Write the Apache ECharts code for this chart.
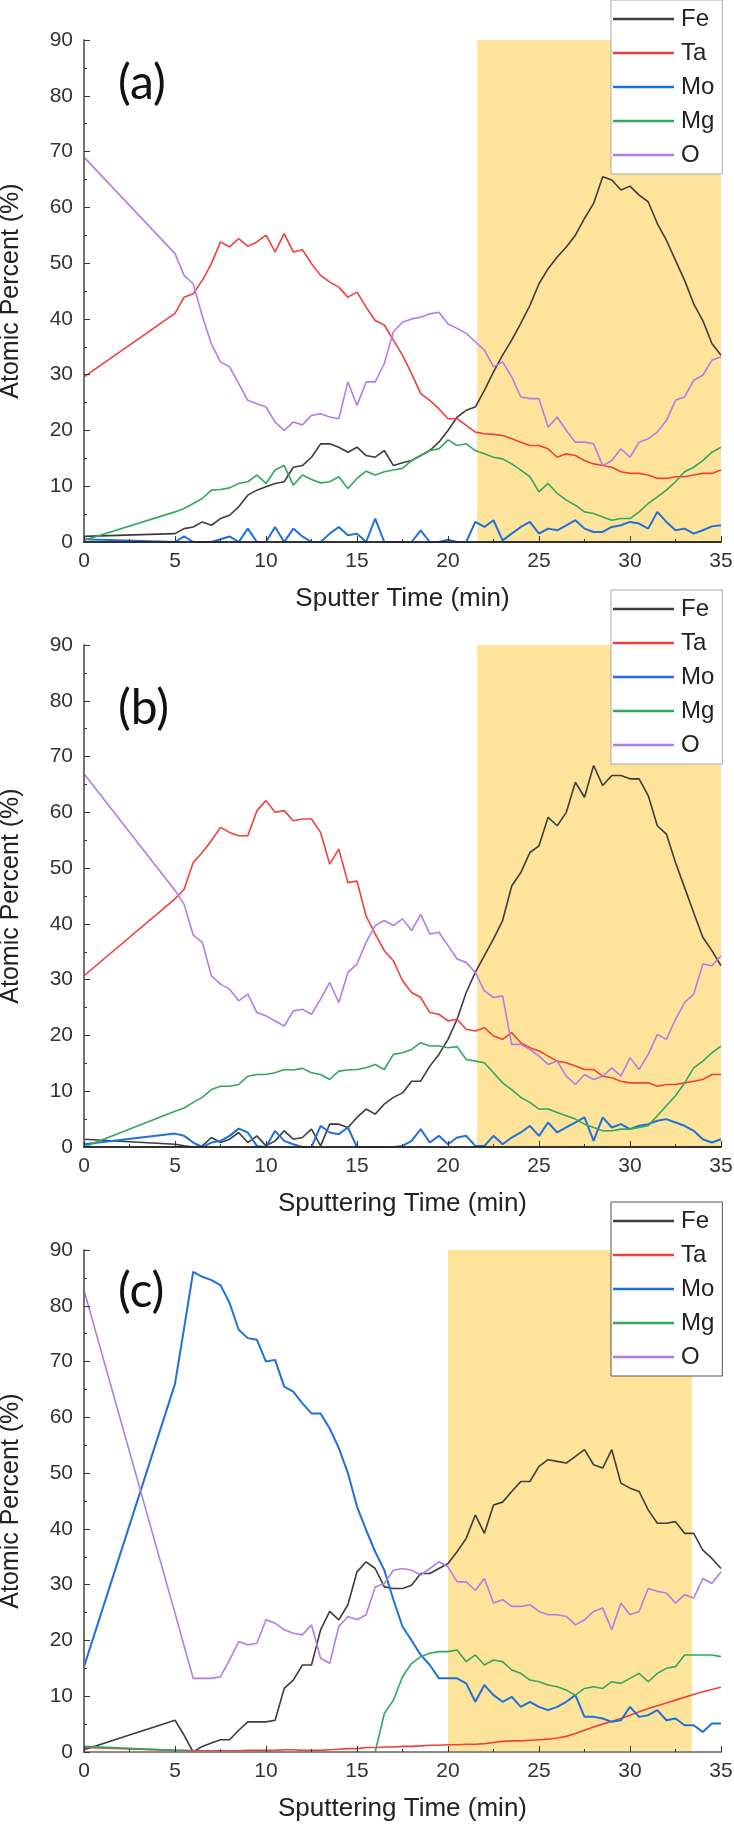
<!DOCTYPE html>
<html style="height: 100%">
<head>
<meta charset="utf-8">
<script type="text/javascript" src="https://cdn.jsdelivr.net/npm/echarts@6/dist/echarts.min.js"></script>
</head>
<body style="height: 100%; margin: 0; background: #fff">
<div id="container" style="width: 734px; height: 1826px"></div>
<script type="text/javascript">
// sputter time (min), shared by all three depth profiles
var timeMin = [0, 5, 5.5, 6, 6.5, 7, 7.5, 8, 8.5, 9, 9.5, 10, 10.5, 11, 11.5, 12, 12.5, 13, 13.5, 14, 14.5, 15, 15.5, 16, 16.5, 17, 17.5, 18, 18.5, 19, 19.5, 20, 20.5, 21, 21.5, 22, 22.5, 23, 23.5, 24, 24.5, 25, 25.5, 26, 26.5, 27, 27.5, 28, 28.5, 29, 29.5, 30, 30.5, 31, 31.5, 32, 32.5, 33, 33.5, 34, 34.5, 35];

var elements = ['Fe', 'Ta', 'Mo', 'Mg', 'O'];

// (a)
var feA = [1.0, 1.5, 2.4, 2.7, 3.6, 3.0, 4.2, 4.8, 6.3, 8.4, 9.3, 9.9, 10.5, 10.8, 13.4, 13.7, 15.2, 17.6, 17.6, 17.0, 16.1, 17.0, 15.5, 15.2, 16.4, 13.7, 14.2, 14.6, 15.5, 16.4, 17.9, 20.0, 22.4, 23.6, 24.2, 27.2, 30.5, 33.5, 36.2, 39.2, 42.4, 46.3, 49.0, 51.1, 52.9, 55.0, 58.0, 60.7, 65.5, 64.9, 63.1, 63.8, 62.2, 61.0, 57.1, 54.1, 50.5, 46.9, 42.7, 39.7, 35.6, 33.5];
var taA = [29.6, 41.0, 43.9, 44.5, 46.9, 49.9, 53.8, 52.9, 54.4, 53.0, 53.8, 55.0, 52.0, 55.3, 52.0, 52.4, 49.9, 47.8, 46.6, 45.7, 43.9, 44.8, 42.1, 39.7, 38.9, 36.2, 33.5, 30.2, 26.6, 25.4, 23.9, 22.1, 22.1, 20.9, 19.7, 19.4, 19.3, 19.1, 18.5, 17.9, 17.3, 17.3, 16.7, 15.2, 15.8, 15.5, 14.6, 14.0, 13.7, 13.4, 12.6, 12.3, 12.3, 12.0, 11.4, 11.4, 11.7, 11.7, 12.0, 12.3, 12.3, 12.9];
var moA = [0.5, 0, 1.0, 0, 0, 0, 0.5, 1.0, 0, 2.4, 0, 0, 2.7, 0, 2.4, 1.0, 0, 0, 1.5, 2.7, 1.2, 1.5, 0, 4.2, 0, 0, 0, 0, 2.1, 0, 0, 0.4, 0, 0, 3.6, 2.7, 3.9, 0.3, 1.5, 2.7, 3.6, 1.5, 2.4, 2.1, 3.0, 3.9, 2.4, 1.8, 1.8, 2.7, 3.0, 3.6, 3.3, 2.4, 5.4, 3.6, 2.1, 2.4, 1.5, 2.1, 2.8, 3.0];
var mgA = [0.3, 5.4, 6.0, 6.9, 7.8, 9.3, 9.4, 9.7, 10.5, 10.8, 12.0, 10.5, 12.9, 13.7, 10.2, 12.0, 11.2, 10.6, 10.8, 11.7, 9.6, 11.4, 12.7, 12.0, 12.6, 12.9, 13.2, 14.6, 15.5, 16.4, 16.7, 18.3, 17.3, 17.6, 16.4, 15.8, 15.2, 14.9, 14.0, 12.9, 11.7, 9.0, 10.5, 8.7, 7.5, 6.6, 5.4, 5.1, 4.5, 3.9, 4.2, 4.2, 5.4, 6.9, 8.1, 9.3, 10.8, 12.6, 13.4, 14.6, 16.1, 17.0];
var oA = [69.0, 51.7, 47.8, 46.3, 40.5, 35.5, 32.3, 31.4, 28.4, 25.4, 24.8, 24.2, 21.5, 20.0, 21.5, 21.0, 22.7, 23.0, 22.4, 22.1, 28.7, 24.5, 28.7, 28.7, 32.0, 37.7, 39.4, 40.0, 40.3, 40.9, 41.2, 39.1, 38.3, 37.4, 35.9, 34.4, 31.4, 32.3, 29.6, 26.0, 25.7, 25.7, 20.6, 22.4, 20.0, 17.9, 17.9, 17.6, 13.7, 14.6, 16.7, 15.2, 17.9, 18.5, 19.7, 21.8, 25.4, 26.0, 29.0, 29.9, 32.6, 33.2];

// (b)
var feB = [1.4, 0.5, 0.2, 0, 0.2, 1.7, 0.8, 1.4, 2.6, 0.8, 2.0, 0.2, 1.1, 2.9, 1.4, 1.7, 3.2, 0.2, 4.1, 4.1, 3.5, 5.3, 6.8, 5.9, 7.7, 8.9, 9.7, 11.8, 11.8, 14.5, 16.6, 19.3, 22.9, 27.7, 31.3, 34.3, 37.3, 40.6, 46.8, 49.2, 52.8, 54.0, 59.1, 57.6, 60.0, 65.4, 62.7, 68.4, 64.8, 66.6, 66.6, 66.0, 66.0, 63.0, 57.6, 56.1, 51.0, 46.5, 42.0, 37.6, 35.2, 32.5];
var taB = [30.7, 44.5, 46.2, 51.0, 52.8, 54.9, 57.3, 56.4, 55.8, 55.8, 60.3, 62.1, 60.0, 60.3, 58.5, 58.8, 58.8, 56.4, 50.7, 53.4, 47.4, 47.7, 41.4, 38.2, 35.2, 33.4, 29.8, 27.7, 26.8, 24.1, 23.8, 22.6, 22.9, 21.1, 20.8, 21.4, 19.9, 19.3, 20.5, 18.7, 17.8, 17.2, 16.3, 15.4, 15.1, 14.5, 13.9, 13.9, 12.7, 12.4, 11.8, 11.5, 11.5, 11.5, 10.9, 11.2, 11.2, 11.5, 11.8, 12.1, 13.0, 13.0];
var moB = [0.5, 2.4, 2.0, 0.8, 0, 0.8, 1.1, 2.0, 3.3, 2.6, 0.2, 0, 2.9, 1.1, 0.5, 0, 0, 3.8, 2.6, 2.3, 3.5, 0, 0, 0, 0, 0, 0.2, 1.1, 3.2, 0.8, 2.0, 0.5, 1.7, 2.0, 0.2, 0.2, 2.0, 0.5, 1.7, 2.6, 3.8, 2.0, 4.4, 2.6, 3.5, 4.4, 5.3, 1.1, 5.3, 3.5, 4.1, 3.2, 3.8, 4.1, 4.7, 5.0, 4.4, 3.8, 2.9, 1.4, 0.8, 1.4];
var mgB = [0, 6.4, 7.0, 8.0, 8.9, 10.3, 10.9, 10.9, 11.2, 12.7, 13.0, 13.0, 13.3, 13.9, 13.8, 14.1, 13.3, 13.0, 12.1, 13.6, 13.8, 13.9, 14.2, 14.8, 13.9, 16.6, 16.9, 17.5, 18.7, 18.1, 18.1, 17.8, 18.0, 15.7, 15.4, 15.1, 13.3, 11.5, 10.3, 8.9, 8.0, 6.8, 6.8, 6.2, 5.6, 5.0, 4.1, 3.5, 2.9, 2.9, 3.2, 3.2, 3.5, 3.8, 5.6, 7.4, 9.2, 11.5, 14.2, 15.4, 16.9, 18.1];
var oB = [66.9, 46.0, 43.5, 38.0, 36.7, 30.7, 29.2, 28.3, 26.2, 27.4, 24.1, 23.5, 22.6, 21.7, 24.4, 24.7, 23.8, 26.5, 29.5, 25.9, 31.3, 32.8, 36.7, 39.7, 40.6, 39.7, 40.9, 38.8, 41.7, 38.2, 38.5, 36.1, 33.7, 33.1, 31.3, 28.0, 26.8, 27.1, 18.4, 18.4, 17.5, 16.3, 14.8, 15.4, 12.7, 11.2, 13.0, 12.1, 12.7, 14.2, 12.7, 16.0, 13.9, 16.6, 20.2, 19.3, 22.9, 25.9, 27.4, 32.8, 32.5, 34.3];

// (c)
var feC = [0.4, 5.7, 3.0, 0, 1.0, 1.6, 2.2, 2.2, 3.9, 5.4, 5.4, 5.4, 5.7, 11.4, 12.9, 15.6, 15.6, 21.9, 25.2, 23.7, 26.4, 32.3, 34.1, 32.9, 29.6, 29.3, 29.3, 29.9, 32.0, 32.0, 32.9, 33.8, 35.9, 38.3, 42.5, 39.2, 44.3, 44.8, 46.7, 48.5, 48.5, 51.2, 52.4, 52.1, 51.8, 53.0, 54.2, 51.5, 50.9, 54.2, 48.2, 47.3, 46.7, 43.4, 41.0, 41.0, 41.3, 39.2, 39.2, 36.2, 34.7, 32.9];
var taC = [0.8, 0.3, 0.3, 0.2, 0.2, 0.2, 0.2, 0.2, 0.2, 0.3, 0.3, 0.3, 0.3, 0.4, 0.4, 0.3, 0.3, 0.3, 0.4, 0.5, 0.6, 0.6, 0.8, 0.8, 0.9, 0.9, 1.0, 1.0, 1.1, 1.2, 1.2, 1.3, 1.3, 1.4, 1.4, 1.5, 1.7, 1.9, 2.0, 2.0, 2.1, 2.2, 2.3, 2.5, 2.8, 3.3, 3.9, 4.5, 5.0, 5.5, 6.0, 6.6, 7.2, 7.8, 8.3, 8.8, 9.3, 9.8, 10.3, 10.8, 11.2, 11.6];
var moC = [15.3, 66.0, 76.0, 86.1, 85.2, 84.6, 83.7, 80.5, 75.7, 74.2, 73.9, 70.0, 70.3, 65.5, 64.6, 62.5, 60.7, 60.7, 58.0, 54.5, 50.0, 44.0, 39.8, 35.9, 32.6, 27.3, 22.5, 20.0, 17.4, 15.6, 13.2, 13.2, 13.2, 12.3, 9.0, 12.0, 10.2, 9.0, 9.9, 8.1, 9.0, 8.1, 7.5, 8.1, 9.0, 10.2, 6.3, 6.3, 6.0, 5.4, 5.7, 8.1, 6.3, 6.6, 7.5, 5.7, 6.0, 4.8, 4.8, 3.6, 5.1, 5.1];
var mgC = [1.0, 0.3, 0.2, 0, 0, 0, 0, 0, 0, 0, 0, 0, 0, 0, 0, 0, 0, 0, 0, 0, 0, 0, 0, 0, 6.9, 9.3, 13.5, 15.9, 17.1, 17.7, 18.0, 18.0, 18.3, 16.2, 17.4, 15.6, 16.5, 16.2, 14.7, 14.1, 12.9, 12.6, 12.0, 11.7, 11.1, 10.2, 11.4, 11.7, 11.4, 12.6, 12.3, 13.2, 14.1, 12.6, 14.1, 15.0, 15.3, 17.4, 17.4, 17.4, 17.4, 17.1];
var oC = [82.8, 24.9, 19.0, 13.2, 13.2, 13.2, 13.5, 16.5, 19.8, 19.2, 19.5, 23.7, 23.1, 21.9, 21.3, 21.0, 22.8, 16.8, 15.9, 22.5, 24.3, 23.7, 24.6, 29.6, 30.2, 32.6, 32.9, 32.6, 31.7, 32.9, 34.1, 33.2, 30.5, 30.5, 29.0, 31.1, 26.7, 27.3, 26.1, 26.1, 26.4, 25.2, 24.6, 24.6, 24.3, 22.8, 23.7, 25.2, 25.8, 21.9, 26.7, 24.6, 25.2, 29.3, 28.8, 28.5, 26.7, 28.2, 27.6, 31.1, 30.2, 32.3];

// shaded (interface) windows, min
var shadeA = [21.6, 35];
var shadeB = [21.6, 35];
var shadeC = [20, 33.4];

var xTitles = ['Sputter Time (min)', 'Sputtering Time (min)', 'Sputtering Time (min)'];
var panelTags = ['(a)', '(b)', '(c)'];

var panels = [
    {data: [feA, taA, moA, mgA, oA], shade: shadeA, top: 40, legendTop: 0, tagTop: 60, frame: '#222', legendBorder: '#aaa'},
    {data: [feB, taB, moB, mgB, oB], shade: shadeB, top: 645, legendTop: 590, tagTop: 685, frame: '#222', legendBorder: '#aaa'},
    {data: [feC, taC, moC, mgC, oC], shade: shadeC, top: 1250, legendTop: 1202, tagTop: 1268, frame: '#999', legendBorder: '#555'}
];

var colors = {Fe: '#3d3d3d', Ta: '#f0403c', Mo: '#2070dc', Mg: '#35a65d', O: '#b27de6'};
var font = 'Liberation Sans, Arial, sans-serif';

var grids = [], xAxes = [], yAxes = [], series = [], legends = [], graphics = [];

panels.forEach(function (p, k) {
    // fixed plot box; keep v6 from nudging it to fit the outer labels
    grids.push({left: 84, width: 637, top: p.top, height: 502, containLabel: false, outerBoundsMode: 'none'});

    xAxes.push({
        gridIndex: k, type: 'value', min: 0, max: 35, interval: 5, z: 10,
        name: xTitles[k], nameLocation: 'middle', nameGap: 44,
        nameTextStyle: {fontFamily: font, fontSize: 26, color: '#222'},
        axisLine: {show: true, lineStyle: {color: '#333', width: 1.5}},
        axisTick: {inside: true, length: 6, lineStyle: {color: '#333'}},
        minorTick: {show: true, splitNumber: 2, length: 3, lineStyle: {color: '#333'}},
        axisLabel: {fontFamily: font, fontSize: 21, color: '#333', margin: 9},
        splitLine: {show: false}
    });
    xAxes.push({
        gridIndex: k, type: 'value', min: 0, max: 35, position: 'top', z: 10,
        axisLine: {show: true, lineStyle: {color: p.frame, width: 1.5}},
        axisTick: {show: false}, axisLabel: {show: false}, splitLine: {show: false}
    });
    yAxes.push({
        gridIndex: k, type: 'value', min: 0, max: 90, interval: 10, z: 10,
        name: 'Atomic Percent (%)', nameLocation: 'middle', nameGap: 60, nameRotate: 90,
        nameTextStyle: {fontFamily: font, fontSize: 25, color: '#222'},
        axisLine: {show: true, lineStyle: {color: '#333', width: 1.5}},
        axisTick: {inside: true, length: 6, lineStyle: {color: '#333'}},
        minorTick: {show: true, splitNumber: 2, length: 3, lineStyle: {color: '#333'}},
        axisLabel: {fontFamily: font, fontSize: 21, color: '#333', margin: 11},
        splitLine: {show: false}
    });
    yAxes.push({
        gridIndex: k, type: 'value', min: 0, max: 90, position: 'right', z: 10,
        axisLine: {show: true, lineStyle: {color: '#777', width: 1.5}},
        axisTick: {show: false}, axisLabel: {show: false}, splitLine: {show: false}
    });

    // shaded window, drawn under the profiles
    series.push({
        type: 'line', xAxisIndex: 2 * k, yAxisIndex: 2 * k, data: [], z: 1, silent: true,
        markArea: {
            silent: true,
            itemStyle: {color: '#fee49b'},
            data: [[{xAxis: p.shade[0]}, {xAxis: p.shade[1]}]]
        }
    });

    elements.forEach(function (el, j) {
        var vals = p.data[j];
        series.push({
            name: el, type: 'line', xAxisIndex: 2 * k, yAxisIndex: 2 * k, z: 3,
            symbol: 'none', clip: true,
            lineStyle: {color: colors[el], width: el === 'Mo' ? 2 : 1.6},
            itemStyle: {color: colors[el]},
            data: timeMin.map(function (t, i) { return [t, vals[i]]; })
        });
    });

    legends.push({
        data: elements, orient: 'vertical', left: 611, top: p.legendTop,
        icon: 'rect', itemWidth: 61, itemHeight: 2.5, itemGap: 10,
        padding: [7, 8, 7, 2],
        backgroundColor: '#fff', borderColor: p.legendBorder, borderWidth: 1,
        textStyle: {fontFamily: font, fontSize: 24, color: '#222', lineHeight: 22, padding: [0, 0, 0, 2]},
        selectedMode: false, z: 20
    });

    graphics.push({
        type: 'text', left: 118, top: p.tagTop, z: 20,
        style: {text: panelTags[k], font: '48px Lato, "Open Sans", sans-serif', fill: '#111'}
    });
});

var chart = echarts.init(document.getElementById('container'));
chart.setOption({
    animation: false,
    backgroundColor: '#fff',
    grid: grids,
    xAxis: xAxes,
    yAxis: yAxes,
    legend: legends,
    graphic: graphics,
    series: series
});
</script>
</body>
</html>
